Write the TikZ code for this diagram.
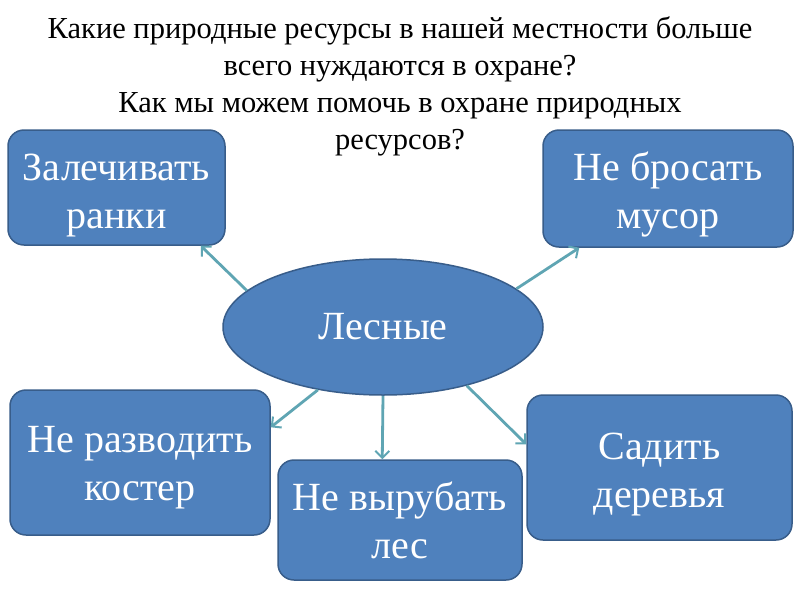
\documentclass[tikz,border=0pt]{standalone}
\usepackage{fontspec}
\setmainfont{Liberation Serif}
\usetikzlibrary{shapes.geometric,arrows.meta}
\definecolor{boxblue}{HTML}{4F81BD}
\definecolor{boxedge}{HTML}{385D8A}
\definecolor{arrowteal}{HTML}{5FA5B3}
\tikzset{
  topic/.style={draw=boxedge, line width=1.5pt, fill=boxblue, rounded corners=16pt, inner sep=0pt},
  topictext/.style={text=white, font=\fontsize{40}{48}\selectfont, align=center, inner sep=0pt},
  hub/.style={draw=boxedge, line width=1.5pt, fill=boxblue, ellipse, text=white,
    font=\fontsize{40}{48}\selectfont, inner sep=0pt, minimum width=320pt, minimum height=136pt},
  link/.style={draw=arrowteal, line width=2.8pt, -{Straight Barb[length=7pt,width=14pt,line width=2pt]}},
  title/.style={font=\fontsize{30.5}{37}\selectfont, align=center, text=black}
}
\begin{document}
\begin{tikzpicture}[x=1pt,y=-1pt]
\useasboundingbox[fill=white] (0,0) rectangle (800,600);
\node[title] (t1) at (400,86) {Какие природные ресурсы в нашей местности больше\\всего нуждаются в охране?\\Как мы можем помочь в охране природных\\ресурсов?};
\node[hub] (h) at (383,327) {Лесные};
\node[topic, minimum width=217pt, minimum height=115pt,
  label={[topictext, yshift=-8pt]center:{Залечивать\\ранки}}] (b1) at (116.5,187.5) {};
\node[topic, minimum width=250pt, minimum height=117pt,
  label={[topictext, yshift=-6pt]center:{Не бросать\\мусор}}] (b2) at (668,188.5) {};
\node[topic, minimum width=260pt, minimum height=145pt,
  label={[topictext, yshift=-5pt]center:{Не разводить\\костер}}] (b3) at (140,462.5) {};
\node[topic, minimum width=244pt, minimum height=120pt,
  label={[topictext]center:{Не вырубать\\лес}}] (b4) at (400,520) {};
\node[topic, minimum width=265pt, minimum height=145pt,
  label={[topictext, yshift=-7pt]center:{Садить\\деревья}}] (b5) at (659.5,467.5) {};
\draw[link] (h.165) -- ([xshift=-25pt]b1.south east);
\draw[link] (h.16) -- ([xshift=37pt]b2.south west);
\draw[link] (h.224) -- ([yshift=-38pt]b3.north east);
\draw[link] (h.south) -- ([xshift=105pt]b4.north west);
\draw[link] (h.-35) -- ([yshift=-50pt]b5.north west);
\end{tikzpicture}
\end{document}
